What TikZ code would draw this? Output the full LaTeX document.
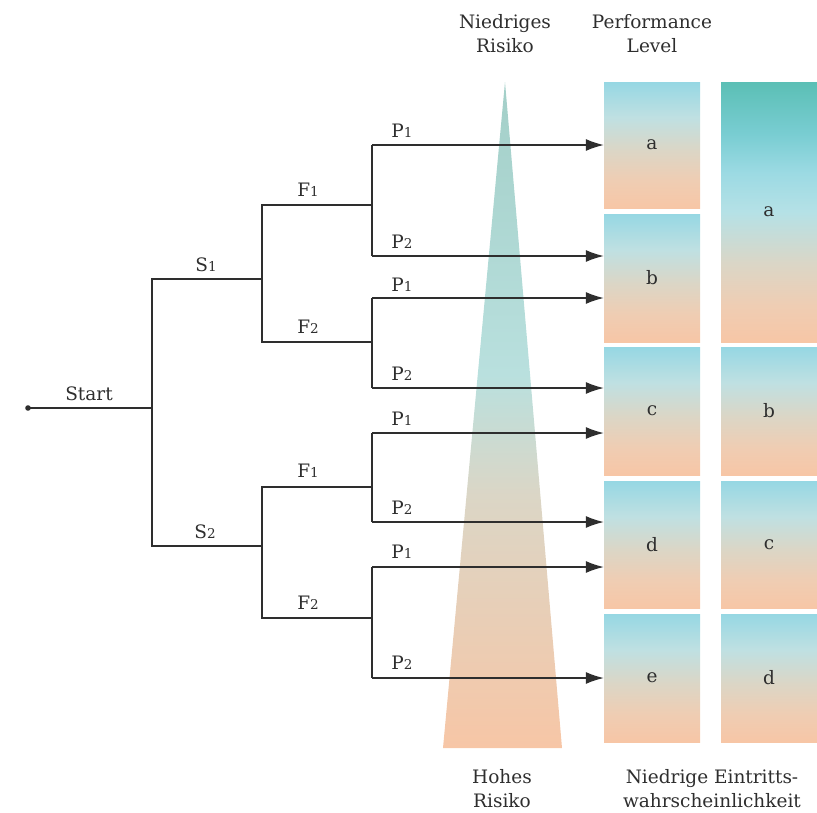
\documentclass[tikz,border=0pt]{standalone}
\usepackage{fontspec}
\setmainfont{DejaVu Serif}
\usetikzlibrary{arrows.meta}

\definecolor{ink}{HTML}{2E2E2E}
\definecolor{sky}{HTML}{96D7E3}
\definecolor{skylite}{HTML}{BFE0E2}
\definecolor{sand}{HTML}{DBD6C6}
\definecolor{peachlite}{HTML}{EFCDB3}
\definecolor{peach}{HTML}{F7C6A6}
\definecolor{teal}{HTML}{5BBFB5}
\definecolor{tealsky}{HTML}{79CDD2}
\definecolor{skymid}{HTML}{9CDAE3}
\definecolor{skypale}{HTML}{B5E1E6}
\definecolor{tritop}{HTML}{A3CFC8}
\definecolor{trimid}{HTML}{B9E0DE}

% level boxes: light blue above, peach below
\pgfdeclareverticalshading{levelgrad}{100bp}{%
  color(0bp)=(peach); color(25bp)=(peach); color(36bp)=(peachlite);
  color(48bp)=(sand); color(61bp)=(skylite); color(75bp)=(sky); color(100bp)=(sky)}
% tall box: teal on top
\pgfdeclareverticalshading{tallgrad}{100bp}{%
  color(0bp)=(peach); color(25bp)=(peach); color(32bp)=(peachlite);
  color(40bp)=(sand); color(50bp)=(skypale); color(57.5bp)=(skymid);
  color(65bp)=(tealsky); color(75bp)=(teal); color(100bp)=(teal)}
% risk wedge
\pgfdeclareverticalshading{wedgegrad}{100bp}{%
  color(0bp)=(peach); color(25bp)=(peach); color(44bp)=(sand);
  color(53bp)=(trimid); color(75bp)=(tritop); color(100bp)=(tritop)}

\newcommand\lowfig[1]{{\fontsize{13.5}{13.5}\selectfont #1}}

\tikzset{
  branch/.style={draw=ink, line width=1.3pt},
  flow/.style={branch, -{Latex[length=18pt,width=12pt]}},
  tag/.style={text=ink, font=\fontsize{18.5}{18.5}\selectfont, inner sep=0pt},
  caption/.style={tag, align=center, font=\fontsize{18.5}{24}\selectfont},
  levelbox/.style={shading=levelgrad, minimum width=96pt, text=ink,
    font=\fontsize{18.5}{18.5}\selectfont, inner sep=0pt},
  tallbox/.style={levelbox, shading=tallgrad},
}

\begin{document}
\begin{tikzpicture}[x=1pt, y=-1pt]
\useasboundingbox (0,0) rectangle (817,812);

% risk wedge
\shade[shading=wedgegrad] (505,82) -- (562,748) -- (443,748) -- cycle;

% performance level boxes
\node[levelbox, minimum height=126pt] (pa) at (652,145) {a};
\node[levelbox, minimum height=128pt] (pb) at (652,278) {b};
\node[levelbox, minimum height=128pt] (pc) at (652,411) {c};
\node[levelbox, minimum height=127pt] (pd) at (652,544.5) {d};
\node[levelbox, minimum height=128pt] (pe) at (652,678) {e};

% probability boxes
\node[tallbox, minimum height=260pt] (qa) at (769,212) {a};
\node[levelbox, minimum height=128pt] (qb) at (769,411) {b};
\node[levelbox, minimum height=127pt] (qc) at (769,544.5) {c};
\node[levelbox, minimum height=128pt] (qd) at (769,678) {d};

% branch points
\coordinate (root) at (28,408);
\coordinate (j0) at (152,408);
\coordinate (s1a) at (152,279);  \coordinate (s1b) at (262,279);
\coordinate (s2a) at (152,546);  \coordinate (s2b) at (262,546);
\coordinate (f11a) at (262,205); \coordinate (f11b) at (372,205);
\coordinate (f12a) at (262,342); \coordinate (f12b) at (372,342);
\coordinate (f21a) at (262,487); \coordinate (f21b) at (372,487);
\coordinate (f22a) at (262,618); \coordinate (f22b) at (372,618);
\coordinate (p1) at (372,145); \coordinate (p2) at (372,256);
\coordinate (p3) at (372,298); \coordinate (p4) at (372,388);
\coordinate (p5) at (372,433); \coordinate (p6) at (372,522);
\coordinate (p7) at (372,567); \coordinate (p8) at (372,678);

% tree
\fill[ink] (root) circle (2.8pt);
\draw[branch] (root) -- (j0);
\draw[branch] (s1b) -- (s1a) -- (s2a) -- (s2b);
\draw[branch] (f11b) -- (f11a) -- (f12a) -- (f12b);
\draw[branch] (f21b) -- (f21a) -- (f22a) -- (f22b);
\draw[branch] (p1) -- (p2);
\draw[branch] (p3) -- (p4);
\draw[branch] (p5) -- (p6);
\draw[branch] (p7) -- (p8);

% arrows into the level boxes
\draw[flow] (p1) -- (p1 -| pa.west);
\draw[flow] (p2) -- (p2 -| pb.west);
\draw[flow] (p3) -- (p3 -| pb.west);
\draw[flow] (p4) -- (p4 -| pc.west);
\draw[flow] (p5) -- (p5 -| pc.west);
\draw[flow] (p6) -- (p6 -| pd.west);
\draw[flow] (p7) -- (p7 -| pd.west);
\draw[flow] (p8) -- (p8 -| pe.west);

% branch labels
\node[tag] (lstart) at (89,394) {Start};
\node[tag] (ls1) at (206,265) {S\lowfig{1}};
\node[tag] (ls2) at (205,532) {S\lowfig{2}};
\node[tag] (lf11) at (308,190) {F\lowfig{1}};
\node[tag] (lf12) at (308,327) {F\lowfig{2}};
\node[tag] (lf21) at (308,471) {F\lowfig{1}};
\node[tag] (lf22) at (308,603) {F\lowfig{2}};
\node[tag] (lp1) at (402,131) {P\lowfig{1}};
\node[tag] (lp2) at (402,242) {P\lowfig{2}};
\node[tag] (lp3) at (402,285) {P\lowfig{1}};
\node[tag] (lp4) at (402,374) {P\lowfig{2}};
\node[tag] (lp5) at (402,419) {P\lowfig{1}};
\node[tag] (lp6) at (402,508) {P\lowfig{2}};
\node[tag] (lp7) at (402,552) {P\lowfig{1}};
\node[tag] (lp8) at (402,663) {P\lowfig{2}};

% headings
\node[caption] (hlow) at (505,34) {Niedriges\\Risiko};
\node[caption] (hperf) at (652,34) {Performance\\Level};
\node[caption] (hhigh) at (502,789) {Hohes\\Risiko};
\node[caption] (hprob) at (712,789) {Niedrige Eintritts-\\wahrscheinlichkeit};
\end{tikzpicture}
\end{document}
